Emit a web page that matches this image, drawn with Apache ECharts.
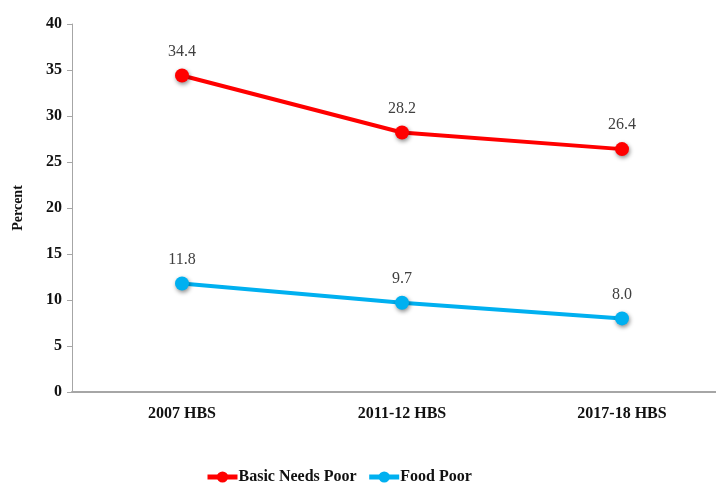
<!DOCTYPE html>
<html>
<head>
<meta charset="utf-8">
<script src="https://cdn.jsdelivr.net/npm/echarts@6/dist/echarts.min.js"></script>
<style>
html, body { margin: 0; padding: 0; background: #fff; }
#main { width: 716px; height: 483px; }
</style>
</head>
<body>
<div id="main"></div>
<script>
let surveys = ['2007 HBS', '2011-12 HBS', '2017-18 HBS'];
let basicNeeds = [34.4, 28.2, 26.4];
let foodPoor = [11.8, 9.7, 8.0];

let myChart = echarts.init(document.getElementById('main'));
let serif = '"Liberation Serif", "DejaVu Serif", serif';

function lineSeries(name, data, color) {
    return {
        name: name,
        type: 'line',
        data: data,
        symbol: 'circle',
        symbolSize: 14,
        lineStyle: { color: color, width: 4 },
        itemStyle: {
            color: color,
            shadowColor: 'rgba(0,0,0,0.45)',
            shadowBlur: 4,
            shadowOffsetX: 1,
            shadowOffsetY: 2
        },
        label: {
            show: true,
            position: 'top',
            distance: 9,
            color: '#404040',
            fontFamily: serif,
            fontSize: 16,
            formatter: function (p) { return p.value.toFixed(1); }
        }
    };
}

let option = {
    backgroundColor: '#fff',
    animation: false,
    grid: { left: 72, width: 660, top: 24, bottom: 91, outerBoundsMode: 'none' },
    legend: {
        bottom: -7,
        left: 200,
        itemWidth: 30,
        itemHeight: 14,
        itemGap: 10,
        lineStyle: { width: 5 },
        itemStyle: { shadowColor: 'rgba(0,0,0,0)' },
        textStyle: { fontFamily: serif, fontSize: 16, color: '#111', fontWeight: 'bold', padding: [0, 0, 0, -4] },
        data: ['Basic Needs Poor', 'Food Poor']
    },
    xAxis: {
        type: 'category',
        data: surveys,
        axisLine: { lineStyle: { color: '#a6a6a6', width: 2 } },
        axisTick: { show: false },
        axisLabel: { margin: 14, color: '#111', fontFamily: serif, fontWeight: 'bold', fontSize: 16 }
    },
    yAxis: {
        type: 'value',
        min: 0,
        max: 40,
        interval: 5,
        name: 'Percent',
        nameLocation: 'middle',
        nameGap: 47,
        nameTextStyle: { fontFamily: serif, fontWeight: 'bold', fontSize: 14, color: '#111' },
        splitLine: { show: false },
        axisLine: { show: true, lineStyle: { color: '#a6a6a6', width: 1 } },
        axisTick: { show: true, length: 5, lineStyle: { color: '#a6a6a6' } },
        axisLabel: { margin: 10, color: '#111', fontFamily: serif, fontWeight: 'bold', fontSize: 16 }
    },
    series: [
        lineSeries('Basic Needs Poor', basicNeeds, '#ff0000'),
        lineSeries('Food Poor', foodPoor, '#00b0f0')
    ]
};

myChart.setOption(option);
</script>
</body>
</html>
